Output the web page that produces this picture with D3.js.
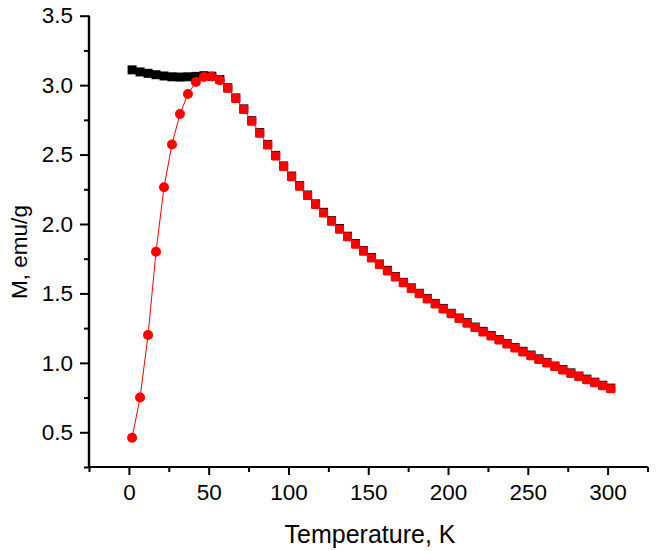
<!DOCTYPE html>
<html>
<head>
<meta charset="utf-8">
<script src="https://cdn.jsdelivr.net/npm/d3@7"></script>
<style>
  html, body { margin: 0; padding: 0; background: #fff; }
  svg { display: block; }
  text { font-family: "Liberation Sans", Arial, sans-serif; fill: #000; }
</style>
</head>
<body>
<svg id="chart" width="656" height="551"></svg>
<script>
// ---- data ----
const temperature = [2, 7, 12, 17, 22, 27, 32, 37, 42, 47, 52, 57, 62, 67, 72, 77, 82, 87, 92, 97,
  102, 107, 112, 117, 122, 127, 132, 137, 142, 147, 152, 157, 162, 167, 172, 177, 182, 187, 192, 197,
  202, 207, 212, 217, 222, 227, 232, 237, 242, 247, 252, 257, 262, 267, 272, 277, 282, 287, 292, 297, 302];

// zero-field-cooled (red)
const mZFC = [0.46, 0.75, 1.20, 1.80, 2.265, 2.572, 2.792, 2.936, 3.022, 3.058, 3.062, 3.036, 2.977, 2.904, 2.825, 2.740, 2.654, 2.569, 2.490, 2.414,
  2.341, 2.272, 2.205, 2.141, 2.080, 2.020, 1.963, 1.908, 1.855, 1.804, 1.755, 1.708, 1.662, 1.618, 1.576, 1.536, 1.497, 1.460, 1.424, 1.388,
  1.353, 1.319, 1.286, 1.254, 1.223, 1.193, 1.164, 1.135, 1.107, 1.079, 1.052, 1.025, 0.999, 0.973, 0.948, 0.924, 0.901, 0.879, 0.857, 0.835, 0.814];

// field-cooled (black)
const mFC = [3.110, 3.095, 3.085, 3.075, 3.066, 3.060, 3.058, 3.060, 3.063, 3.068, 3.064, 3.040, 2.981, 2.908, 2.829, 2.744, 2.658, 2.573, 2.494, 2.418,
  2.345, 2.276, 2.209, 2.145, 2.084, 2.024, 1.967, 1.912, 1.859, 1.808, 1.759, 1.712, 1.666, 1.622, 1.580, 1.540, 1.501, 1.464, 1.428, 1.392,
  1.357, 1.323, 1.290, 1.258, 1.227, 1.197, 1.168, 1.139, 1.111, 1.083, 1.056, 1.029, 1.003, 0.977, 0.952, 0.928, 0.905, 0.883, 0.861, 0.839, 0.818];

const xTicksMajor = [0, 50, 100, 150, 200, 250, 300];
const xTicksMinor = [-25, 25, 75, 125, 175, 225, 275, 325];
const yTicksMajor = [0.5, 1.0, 1.5, 2.0, 2.5, 3.0, 3.5];
const yTicksMinor = [0.25, 0.75, 1.25, 1.75, 2.25, 2.75, 3.25];

const xTitle = "Temperature, K";
const yTitle = "M, emu/g";

// ---- layout ----
const svg = d3.select("#chart");
const x = d3.scaleLinear().domain([-25, 325]).range([89, 647.5]);
const y = d3.scaleLinear().domain([0.25, 3.5]).range([467, 15.7]);

const fontTick = 22.5;

// x axis
const xAxisMajor = d3.axisBottom(x).tickValues(xTicksMajor).tickSize(8).tickPadding(9)
  .tickFormat(d3.format("d"));
const xAxisMinor = d3.axisBottom(x).tickValues(xTicksMinor).tickSize(5).tickFormat("");
const gxMin = svg.append("g").attr("transform", `translate(0,${y(0.25)})`).call(xAxisMinor);
const gx = svg.append("g").attr("transform", `translate(0,${y(0.25)})`).call(xAxisMajor);

// y axis
const yAxisMajor = d3.axisLeft(y).tickValues(yTicksMajor).tickSize(9).tickPadding(7)
  .tickFormat(d3.format(".1f"));
const yAxisMinor = d3.axisLeft(y).tickValues(yTicksMinor).tickSize(5).tickFormat("");
const gyMin = svg.append("g").attr("transform", `translate(${x(-25)},0)`).call(yAxisMinor);
const gy = svg.append("g").attr("transform", `translate(${x(-25)},0)`).call(yAxisMajor);

[gx, gxMin, gy, gyMin].forEach(g => {
  g.selectAll("path.domain").attr("stroke", "#000").attr("stroke-width", 2.2);
  g.selectAll(".tick line").attr("stroke", "#000").attr("stroke-width", 2);
  g.selectAll(".tick text").attr("font-size", fontTick)
    .attr("font-family", "Liberation Sans, Arial, sans-serif").attr("fill", "#000");
});
// remove outer-tick caps of domain paths so only the axis line remains
[gx, gxMin].forEach(g => g.select("path.domain").attr("d", `M${x(-25)},0H${x(325)}`));
[gy, gyMin].forEach(g => g.select("path.domain").attr("d", `M0,${y(0.25)}V${y(3.5)}`));
gx.selectAll(".tick text").attr("dy", "0.71em");

// titles
svg.append("text")
  .attr("x", 370).attr("y", 543)
  .attr("text-anchor", "middle")
  .attr("font-size", 25)
  .text(xTitle);

svg.append("text")
  .attr("transform", "translate(27,252) rotate(-90)")
  .attr("text-anchor", "middle")
  .attr("font-size", 22.5)
  .text(yTitle);

// ---- data marks ----
const fc = temperature.map((t, i) => ({ t, m: mFC[i] }));
const zfc = temperature.map((t, i) => ({ t, m: mZFC[i] }));

const sq = 9;
// FC: black squares
svg.append("g").selectAll("rect").data(fc).join("rect")
  .attr("x", d => x(d.t) - sq / 2)
  .attr("y", d => y(d.m) - sq / 2)
  .attr("width", sq).attr("height", sq)
  .attr("fill", "#000");

// ZFC line
const line = d3.line().x(d => x(d.t)).y(d => y(d.m));
svg.append("path").datum(zfc)
  .attr("d", line)
  .attr("fill", "none")
  .attr("stroke", "#ff0000")
  .attr("stroke-width", 1);

// ZFC markers: circles at low T, squares above
const gZ = svg.append("g");
gZ.selectAll("circle").data(zfc.filter(d => d.t < 60)).join("circle")
  .attr("cx", d => x(d.t)).attr("cy", d => y(d.m)).attr("r", 5)
  .attr("fill", "#ff0000");
gZ.selectAll("rect").data(zfc.filter(d => d.t >= 60)).join("rect")
  .attr("x", d => x(d.t) - sq / 2)
  .attr("y", d => y(d.m) - sq / 2)
  .attr("width", sq).attr("height", sq).attr("rx", 1.5)
  .attr("fill", "#ff0000");
</script>
</body>
</html>
